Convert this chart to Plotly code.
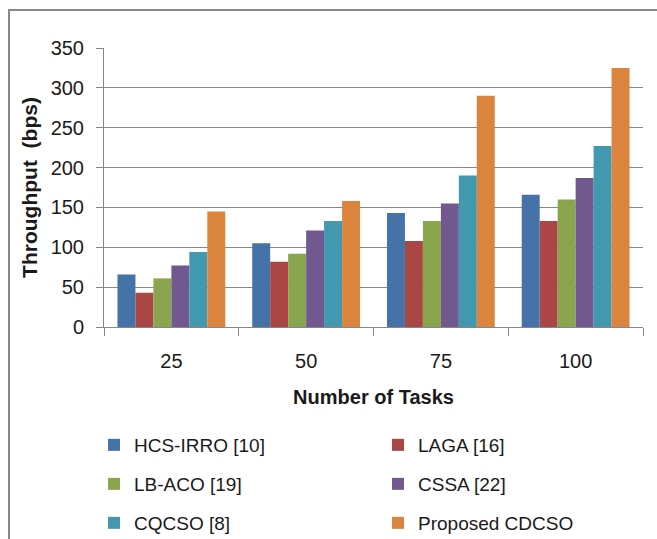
import plotly.graph_objects as go

# Throughput per scheduler for each task count
tasks = ["25", "50", "75", "100"]
series_names = ["HCS-IRRO [10]", "LAGA [16]", "LB-ACO [19]", "CSSA [22]", "CQCSO [8]", "Proposed CDCSO"]
hcs_irro = [66, 105, 143, 166]
laga = [43, 82, 108, 133]
lb_aco = [61, 92, 133, 160]
cssa = [77, 121, 155, 187]
cqcso = [94, 133, 190, 227]
proposed = [145, 158, 290, 325]
y_ticks = [0, 50, 100, 150, 200, 250, 300, 350]

values = [hcs_irro, laga, lb_aco, cssa, cqcso, proposed]
colors = ["#4572A7", "#AA4643", "#89A54E", "#71588F", "#4198AF", "#DB843D"]
legend_ids = ["legend", "legend", "legend2", "legend2", "legend3", "legend3"]

W, H = 657, 539
L, R, T, B = 104, 14, 48, 212
PW, PH = W - L - R, H - T - B


def px_x(px):
    return (px - L) / PW


def px_y(py):
    return (H - B - py) / PH


FONT = "Liberation Sans"
AXIS_GRAY = "#868686"
TEXT = "#1a1a1a"

fig = go.Figure()
for name, vals, col, lg in zip(series_names, values, colors, legend_ids):
    fig.add_trace(go.Bar(
        x=tasks, y=vals, name=name, legend=lg,
        marker=dict(color=col, line=dict(width=0)),
    ))

legend_common = dict(
    orientation="h", xanchor="left", yanchor="middle",
    entrywidth=239, entrywidthmode="pixels",
    font=dict(family=FONT, size=19, color=TEXT),
    bgcolor="rgba(0,0,0,0)", borderwidth=0,
    itemclick=False, itemdoubleclick=False,
)

fig.update_layout(
    width=W, height=H,
    margin=dict(l=L, r=R, t=T, b=B, pad=0, autoexpand=False),
    paper_bgcolor="white", plot_bgcolor="white",
    font=dict(family=FONT, size=20, color=TEXT),
    barmode="group", bargap=0.2, bargroupgap=0,
    legend=dict(x=px_x(94), y=px_y(445), **legend_common),
    legend2=dict(x=px_x(94), y=px_y(484), **legend_common),
    legend3=dict(x=px_x(94), y=px_y(523), **legend_common),
    xaxis=dict(
        type="category", tickson="boundaries",
        ticks="outside", ticklen=8, tickcolor=AXIS_GRAY, tickwidth=1,
        showline=True, linecolor=AXIS_GRAY, linewidth=1,
        showgrid=False, zeroline=False,
        tickfont=dict(family=FONT, size=20, color=TEXT),
        ticklabelstandoff=16,
        title=dict(text="<b>Number of Tasks</b>", font=dict(family=FONT, size=20, color=TEXT), standoff=18),
    ),
    yaxis=dict(
        range=[0, 350], tickvals=y_ticks,
        ticks="outside", ticklen=7, tickcolor=AXIS_GRAY, tickwidth=1,
        showline=True, linecolor=AXIS_GRAY, linewidth=1,
        showgrid=True, gridcolor=AXIS_GRAY, gridwidth=1,
        zeroline=False,
        tickfont=dict(family=FONT, size=20, color=TEXT),
        ticklabelstandoff=8,
        title=dict(text="<b>Throughput  (bps)</b>", font=dict(family=FONT, size=21, color=TEXT), standoff=7),
    ),
    shapes=[
        # outer chart frame (left and top edges)
        dict(type="line", xref="paper", yref="paper",
             x0=px_x(9), x1=px_x(9), y0=px_y(10), y1=px_y(560),
             line=dict(color="#878787", width=2)),
        dict(type="line", xref="paper", yref="paper",
             x0=px_x(8), x1=px_x(680), y0=px_y(10), y1=px_y(10),
             line=dict(color="#878787", width=2)),
    ],
)

fig.write_html("out.html")
